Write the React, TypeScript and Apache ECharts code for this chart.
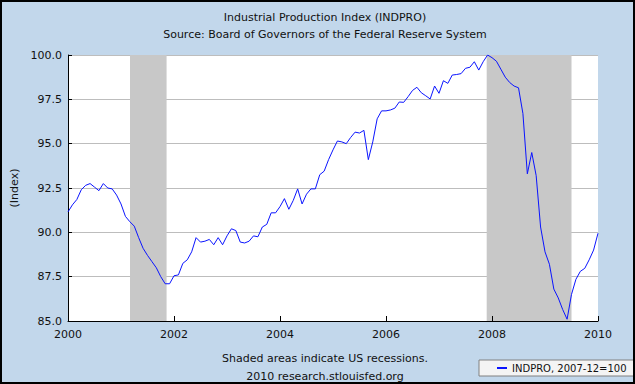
import React, { useEffect, useRef } from "react";
import * as echarts from "echarts";

const titleText = "Industrial Production Index (INDPRO)";
const sourceText = "Source: Board of Governors of the Federal Reserve System";
const footerLines = ["Shaded areas indicate US recessions.", "2010 research.stlouisfed.org"];
const seriesName = "INDPRO, 2007-12=100";
const yAxisName = "(Index)";

const startYear = 2000;
// Monthly values, 2000-01 .. 2010-01
const indpro = [
  91.15, 91.55, 91.85, 92.4, 92.65, 92.75, 92.55, 92.35, 92.75, 92.5, 92.45, 92.1,
  91.6, 90.9, 90.6, 90.35, 89.7, 89.1, 88.7, 88.35, 88.0, 87.5, 87.1, 87.1,
  87.55, 87.6, 88.25, 88.45, 88.9, 89.7, 89.45, 89.5, 89.6, 89.3, 89.7, 89.3,
  89.8, 90.2, 90.1, 89.45, 89.4, 89.5, 89.8, 89.75, 90.3, 90.45, 91.1, 91.1,
  91.45, 91.9, 91.3, 91.8, 92.45, 91.6, 92.15, 92.45, 92.45, 93.25, 93.45, 94.1,
  94.65, 95.15, 95.1, 95.0, 95.35, 95.65, 95.6, 95.75, 94.1, 95.1, 96.4, 96.85,
  96.85, 96.9, 97.0, 97.35, 97.33, 97.65, 98.0, 98.18, 97.87, 97.7, 97.52, 98.25,
  97.84, 98.55, 98.4, 98.87, 98.9, 98.95, 99.25, 99.31, 99.62, 99.15, 99.62, 100.0,
  99.85, 99.65, 99.2, 98.75, 98.45, 98.25, 98.15, 96.7, 93.3, 94.5, 93.2, 90.3,
  88.9, 88.2, 86.8, 86.3, 85.65, 85.1, 86.5, 87.35, 87.8, 87.97, 88.45, 89.0,
  89.95,
];

const recessionStarts = [2001.17, 2007.9];
const recessionEnds = [2001.86, 2009.5];

const xTicks = [2000, 2002, 2004, 2006, 2008, 2010];
const yMin = 85;
const yMax = 100;
const yStep = 2.5;

export default function App() {
  const ref = useRef<HTMLDivElement>(null);

  useEffect(() => {
    if (!ref.current) return;
    const chart = echarts.init(ref.current, undefined, { renderer: "svg" });
    const data = indpro.map((v, i) => [startYear + i / 12, v]);
    const font = "'DejaVu Sans', Verdana, sans-serif";

    chart.setOption({
      animation: false,
      backgroundColor: "#C2D7EB",
      textStyle: { fontFamily: font },
      title: [
        { text: titleText, left: 320, top: 7, textAlign: "center", textStyle: { fontSize: 11, fontWeight: "normal", color: "#111", fontFamily: font } },
        { text: sourceText, left: 320, top: 24, textAlign: "center", textStyle: { fontSize: 11, fontWeight: "normal", color: "#111", fontFamily: font } },
        { text: footerLines[0], left: 320, top: 348, textAlign: "center", textStyle: { fontSize: 11, fontWeight: "normal", color: "#111", fontFamily: font } },
        { text: footerLines[1], left: 320, top: 366, textAlign: "center", textStyle: { fontSize: 11, fontWeight: "normal", color: "#111", fontFamily: font } },
      ],
      legend: {
        left: 479,
        top: 360,
        data: [seriesName],
        backgroundColor: "#F4F4F4",
        borderColor: "#808080",
        borderWidth: 1,
        padding: [3, 9, 3, 18],
        itemWidth: 10,
        itemHeight: 2,
        itemGap: 5,
        icon: "rect",
        textStyle: { fontSize: 10, color: "#111", fontFamily: font },
      },
      grid: {
        show: true,
        backgroundColor: "#FFFFFF",
        borderWidth: 0,
        borderColor: "transparent",
        left: 68,
        right: 37,
        top: 55,
        bottom: 63,
        containLabel: false,
      },
      xAxis: {
        type: "value",
        min: xTicks[0],
        max: xTicks[xTicks.length - 1],
        interval: 2,
        z: 5,
        axisLine: { show: true, lineStyle: { color: "#000", width: 1 } },
        axisTick: { show: true, inside: true, length: 5, lineStyle: { color: "#000" } },
        axisLabel: { color: "#111", fontSize: 11, margin: 8, formatter: (v: number) => String(v) },
        splitLine: { show: false },
      },
      yAxis: {
        type: "value",
        min: yMin,
        max: yMax,
        interval: yStep,
        name: yAxisName,
        nameLocation: "middle",
        nameGap: 48,
        nameTextStyle: { fontSize: 11, color: "#111", fontFamily: font },
        axisLine: { show: true, lineStyle: { color: "#000", width: 1 } },
        axisTick: { show: true, inside: true, length: 4, lineStyle: { color: "#000" } },
        axisLabel: { color: "#111", fontSize: 11, margin: 6, formatter: (v: number) => v.toFixed(1) },
        splitLine: { show: true, lineStyle: { color: "#BDBDBD", width: 1 } },
      },
      graphic: [
        {
          type: "rect",
          shape: { x: 1, y: 1, width: 633, height: 382 },
          style: { fill: "none", stroke: "#000", lineWidth: 2 },
          silent: true,
          z: 100,
        },
      ],
      series: [
        {
          name: seriesName,
          type: "line",
          data,
          showSymbol: false,
          color: "#0A14FF",
          lineStyle: { color: "#0A14FF", width: 1 },
          markArea: {
            silent: true,
            itemStyle: { color: "#C8C8C8" },
            data: recessionStarts.map((s, k) => [{ xAxis: s }, { xAxis: recessionEnds[k] }]),
          },
        },
      ],
    });
    return () => chart.dispose();
  }, []);

  return (
    <div style={{ position: "fixed", left: 0, top: 0, width: 635, height: 384 }}>
      <div ref={ref} style={{ width: 635, height: 384, background: "#fff" }} />
    </div>
  );
}
